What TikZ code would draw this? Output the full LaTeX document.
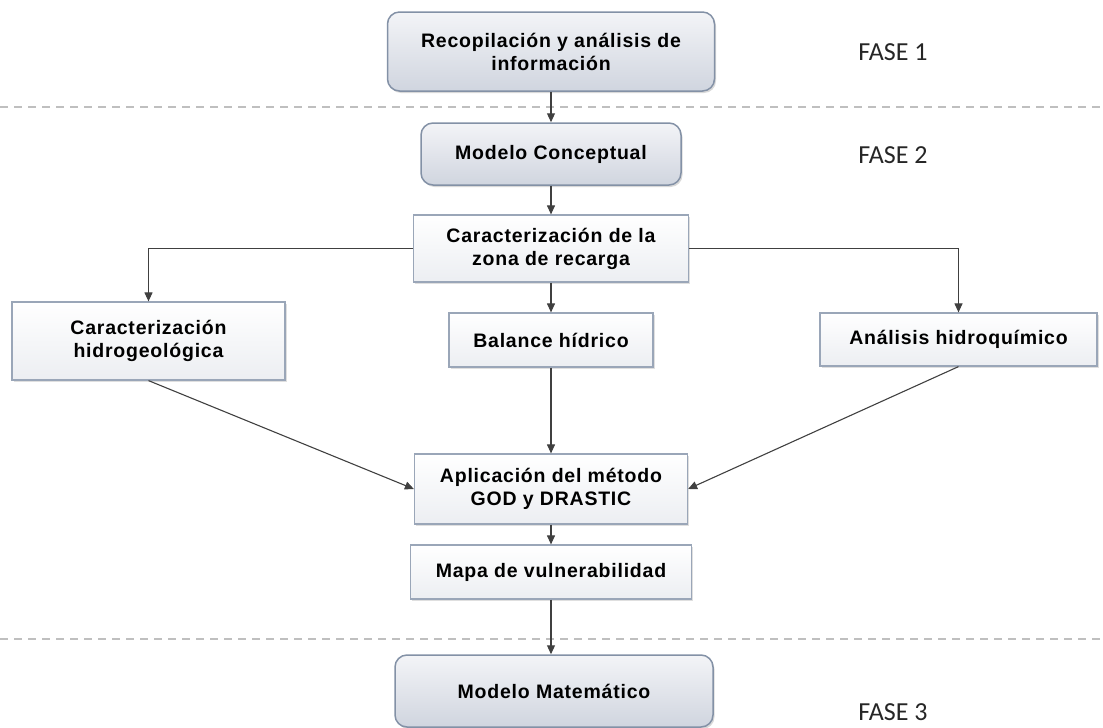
\documentclass[tikz,border=0pt]{standalone}
\usepackage{fontspec}
\setmainfont{Liberation Sans}
\newfontfamily\boxfont[LetterSpace=4]{Liberation Sans}
\newfontfamily\fasefont{Carlito}
\usetikzlibrary{arrows.meta,shadows}
\definecolor{bordefase}{HTML}{8391A6}
\definecolor{bordecaja}{HTML}{9AA6B8}
\definecolor{fasearriba}{HTML}{F3F4F7}
\definecolor{faseabajo}{HTML}{D0D5DF}
\definecolor{cajaabajo}{HTML}{ECEEF2}
\tikzset{
  texto/.style={font=\boxfont\bfseries\fontsize{19.5}{23}\selectfont, align=center, inner sep=0pt, text=black},
  fase/.style={texto, draw=bordefase, line width=1.5pt, rounded corners=12pt,
    top color=fasearriba, bottom color=faseabajo,
    drop shadow={shadow xshift=1.5pt, shadow yshift=-2pt, opacity=0.3}},
  caja/.style={texto, draw=bordecaja, line width=1.2pt,
    top color=white, bottom color=cajaabajo,
    drop shadow={shadow xshift=1.5pt, shadow yshift=-1.5pt, opacity=0.25}},
  etiqueta/.style={font=\fasefont\fontsize{26}{26}\selectfont, text=black!85, inner sep=0pt},
  linea/.style={draw=black!75, line width=1.1pt, -{Triangle[length=9pt,width=8pt]}},
  separador/.style={draw=black!25, line width=1.5pt, dash pattern=on 8pt off 6pt}
}
\begin{document}
\begin{tikzpicture}[x=1pt,y=-1pt]
\useasboundingbox (0,0) rectangle (1103,728);
% separadores de fase
\draw[separador] (0,107) -- (1103,107);
\draw[separador] (0,639) -- (1103,639);
% fases
\node[etiqueta] (f1) at (893,52) {FASE 1};
\node[etiqueta] (f2) at (893,155) {FASE 2};
\node[etiqueta] (f3) at (893,712) {FASE 3};
% bloques
\node[fase, minimum width=327pt, minimum height=79pt] (info) at (551,51.5) {Recopilación y análisis de\\información};
\node[fase, minimum width=260pt, minimum height=62pt] (mc) at (551,154) {Modelo Conceptual};
\node[caja, minimum width=275pt, minimum height=67pt] (zona) at (551,248.5) {Caracterización de la\\zona de recarga};
\node[caja, minimum width=273pt, minimum height=78pt] (hidro) at (148.5,341) {Caracterización\\hidrogeológica};
\node[caja, minimum width=204pt, minimum height=54pt] (balance) at (551,340) {Balance hídrico};
\node[caja, minimum width=277pt, minimum height=53pt] (quim) at (958.5,339.5) {Análisis hidroquímico};
\node[caja, minimum width=273pt, minimum height=70pt] (aplic) at (551,489) {Aplicación del método\\GOD y DRASTIC};
\node[caja, minimum width=281pt, minimum height=54pt] (mapa) at (551,572) {Mapa de vulnerabilidad};
\node[fase, minimum width=318pt, minimum height=72pt] (mm) at (554,691) {Modelo Matemático};
% conexiones
\draw[linea] (info) -- (mc);
\draw[linea] (mc) -- (zona);
\draw[linea] (zona) -- (balance);
\draw[linea] (zona.west) -| (hidro.north);
\draw[linea] (zona.east) -| (quim.north);
\draw[linea] (hidro.south) -- (aplic.west);
\draw[linea] (quim.south) -- (aplic.east);
\draw[linea] (balance) -- (aplic);
\draw[linea] (aplic) -- (mapa);
\draw[linea] (mapa) -- (mapa |- mm.north);
\end{tikzpicture}
\end{document}
